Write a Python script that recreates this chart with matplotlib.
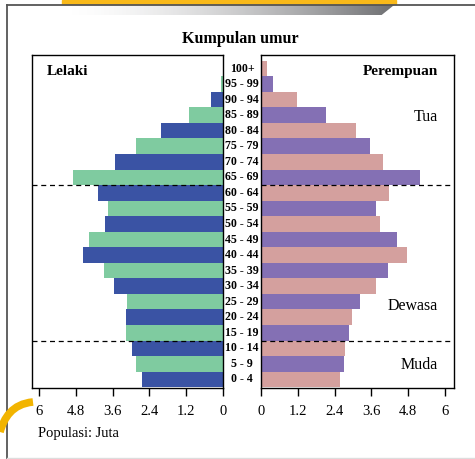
import matplotlib
matplotlib.use("Agg")
import matplotlib.pyplot as plt
import numpy as np
from matplotlib.patches import Polygon, Rectangle, PathPatch
from matplotlib.path import Path

plt.rcParams['font.family'] = ['Liberation Serif', 'DejaVu Serif']

age_groups = ["0 - 4", "5 - 9", "10 - 14", "15 - 19", "20 - 24", "25 - 29", "30 - 34",
              "35 - 39", "40 - 44", "45 - 49", "50 - 54", "55 - 59", "60 - 64", "65 - 69",
              "70 - 74", "75 - 79", "80 - 84", "85 - 89", "90 - 94", "95 - 99", "100+"]
male = [2.65, 2.85, 2.96, 3.17, 3.15, 3.13, 3.56, 3.88, 4.58, 4.36, 3.86, 3.74, 4.09, 4.90,
        3.52, 2.84, 2.03, 1.12, 0.40, 0.07, 0.0]
female = [2.57, 2.72, 2.73, 2.87, 2.98, 3.23, 3.76, 4.13, 4.77, 4.44, 3.89, 3.76, 4.16, 5.17,
          3.97, 3.55, 3.08, 2.11, 1.18, 0.40, 0.19]
tick_vals = [0, 1.2, 2.4, 3.6, 4.8, 6]
tick_labels = ["0", "1.2", "2.4", "3.6", "4.8", "6"]
group_bounds = [2.5, 12.5]
group_labels = ["Muda", "Dewasa", "Tua"]

male_colors = ["#3A53A4", "#7FCBA0"]
female_colors = ["#D4A09E", "#8470B4"]

W, H = 475, 459
fig = plt.figure(figsize=(W / 100, H / 100), dpi=100)

# background decoration layer in pixel coordinates
bg = fig.add_axes([0, 0, 1, 1], zorder=0)
bg.set_xlim(0, W)
bg.set_ylim(H, 0)
bg.axis("off")
grad = np.linspace(0, 1, 256) ** 1.6
grad = grad[np.newaxis, :]
im = bg.imshow(grad, extent=[62, 396, 15.5, 3.5], cmap=matplotlib.colors.LinearSegmentedColormap.from_list(
    "g", ["#FFFFFF", "#6D6E71"]), aspect="auto", zorder=1)
clip = Polygon([[62, 3.5], [396, 3.5], [381, 15.5], [62, 15.5]], closed=True, transform=bg.transData)
im.set_clip_path(clip)
bg.add_patch(Rectangle((62, 0), 334, 3.8, color="#F9B919", zorder=2))
bg.plot([7, 475], [4.5, 4.5], color="#555555", lw=1.3, zorder=3)
bg.plot([7, 7], [4.5, 459], color="#555555", lw=1.3, zorder=3)
bg.plot([7, 475], [457.5, 457.5], color="#DDDDDD", lw=1.0, zorder=3)
arc = Path([(33, 402), (12, 404), (4, 418), (0, 432)], [Path.MOVETO, Path.CURVE4, Path.CURVE4, Path.CURVE4])
bg.add_patch(PathPatch(arc, fill=False, edgecolor="#F2B400", lw=5.5, capstyle="butt", zorder=3))

axL = fig.add_axes([32 / W, 1 - 388 / H, 191 / W, 333 / H], zorder=2)
axR = fig.add_axes([261 / W, 1 - 388 / H, 193 / W, 333 / H], zorder=2)

y = np.arange(len(age_groups))
axL.barh(y, male, height=1.0, color=[male_colors[i % 2] for i in range(len(y))], linewidth=0)
axR.barh(y, female, height=1.0, color=[female_colors[i % 2] for i in range(len(y))], linewidth=0)

for ax in (axL, axR):
    ax.set_ylim(-0.55, 20.87)
    ax.set_yticks([])
    ax.set_xticks(tick_vals)
    ax.set_xticklabels(tick_labels, fontsize=10.5)
    ax.tick_params(axis="x", direction="out", length=6, width=1, pad=6)
    for s in ax.spines.values():
        s.set_linewidth(1.0)
        s.set_color("black")
    for b in group_bounds:
        ax.axhline(b, color="black", lw=0.9, ls=(0, (4, 3)))
axL.set_xlim(6.23, 0)
axR.set_xlim(0, 6.29)

axL.text(0.075, 0.95, "Lelaki", transform=axL.transAxes, fontsize=11, fontweight="bold",
         ha="left", va="center")
axR.text(0.915, 0.95, "Perempuan", transform=axR.transAxes, fontsize=11, fontweight="bold",
         ha="right", va="center")
label_y = [0.9, 4.75, 16.85]
for lab, yy in zip(group_labels, label_y):
    axR.text(0.915, yy, lab, transform=axR.get_yaxis_transform(), fontsize=11.5, ha="right", va="center")

for i, g in enumerate(age_groups):
    axL.annotate(g, xy=(1, i), xycoords=("axes fraction", "data"), xytext=(19, 0),
                 textcoords="offset pixels", ha="center", va="center", fontsize=8.6,
                 fontweight="bold")

fig.text(240 / W, 1 - 39 / H, "Kumpulan umur", ha="center", va="center", fontsize=11.5,
         fontweight="bold")
fig.text(38 / W, 1 - 434 / H, "Populasi: Juta", ha="left", va="center", fontsize=10.5)

fig.savefig("out.png", dpi=100)
